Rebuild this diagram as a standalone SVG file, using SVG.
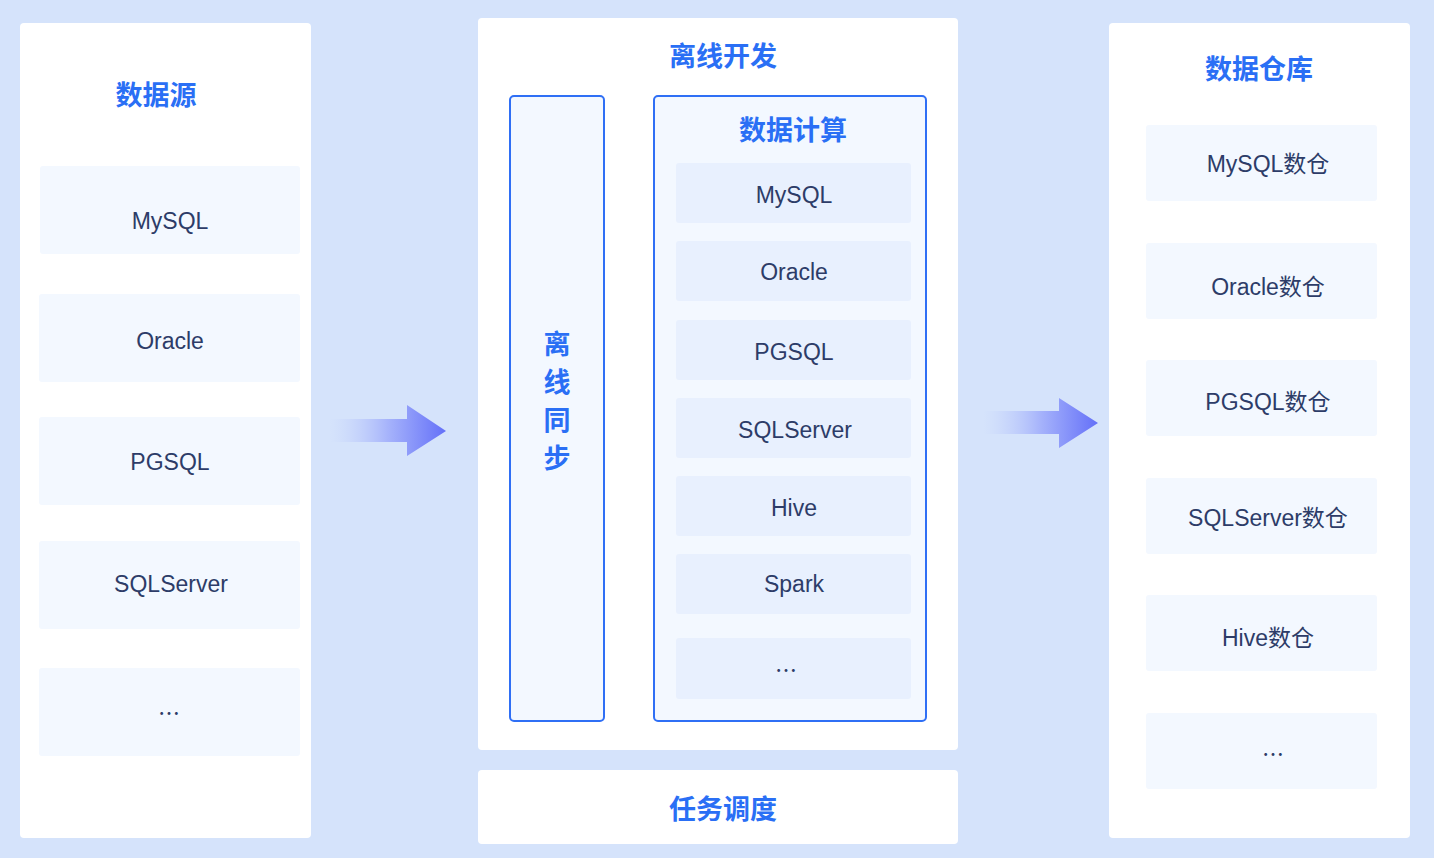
<svg xmlns="http://www.w3.org/2000/svg" width="1434" height="858" viewBox="0 0 1434 858">
<defs>
<style>
.panel{fill:#ffffff;}
.item{fill:#f3f8ff;}
.citem{fill:#e8f0fe;}
.frame{fill:#f3f8ff;stroke:#2f6ff5;stroke-width:2;}
.title{font-family:"Noto Sans CJK SC","Liberation Sans",sans-serif;font-size:27px;font-weight:bold;fill:#2a6ff5;text-anchor:middle;}
.label{font-family:"Liberation Sans","Noto Sans CJK SC",sans-serif;font-size:23px;fill:#2d3c68;text-anchor:middle;}
.dots{font-family:"Noto Sans CJK SC",sans-serif;font-size:22px;fill:#2d3c68;text-anchor:middle;dominant-baseline:central;}
</style>
<linearGradient id="g1" gradientUnits="userSpaceOnUse" x1="330" y1="0" x2="446" y2="0">
<stop offset="0" stop-color="#c3d2fb" stop-opacity="0"/>
<stop offset="0.5" stop-color="#a6b3fb"/>
<stop offset="1" stop-color="#6470f8"/>
</linearGradient>
<linearGradient id="g2" gradientUnits="userSpaceOnUse" x1="983" y1="0" x2="1098" y2="0">
<stop offset="0" stop-color="#c3d2fb" stop-opacity="0"/>
<stop offset="0.5" stop-color="#a6b3fb"/>
<stop offset="1" stop-color="#6470f8"/>
</linearGradient>
</defs>
<rect x="0" y="0" width="1434" height="858" fill="#d5e3fb"/>

<g id="sources">
<rect class="panel" x="20" y="23" width="291" height="815" rx="4"/>
<text class="title" x="156" y="105">数据源</text>
</g>
<g id="src-mysql"><rect class="item" x="40" y="166" width="260" height="88" rx="3"/><text class="label" x="170" y="229">MySQL</text></g>
<g id="src-oracle"><rect class="item" x="39" y="294" width="261" height="88" rx="3"/><text class="label" x="170" y="349">Oracle</text></g>
<g id="src-pgsql"><rect class="item" x="39" y="417" width="261" height="88" rx="3"/><text class="label" x="170" y="470">PGSQL</text></g>
<g id="src-sqlserver"><rect class="item" x="39" y="541" width="261" height="88" rx="3"/><text class="label" x="171" y="592">SQLServer</text></g>
<g id="src-more"><rect class="item" x="39" y="668" width="261" height="88" rx="3"/><text class="dots" x="169" y="711">…</text></g>

<g id="offline-dev">
<rect class="panel" x="478" y="18" width="480" height="732" rx="4"/>
<text class="title" x="723" y="66">离线开发</text>
</g>
<g id="offline-sync">
<rect class="frame" x="510" y="96" width="94" height="625" rx="4"/>
<text class="title" x="557" y="354">离</text>
<text class="title" x="557" y="392">线</text>
<text class="title" x="557" y="430">同</text>
<text class="title" x="557" y="468">步</text>
</g>
<g id="data-compute">
<rect class="frame" x="654" y="96" width="272" height="625" rx="4"/>
<text class="title" x="793" y="140">数据计算</text>
</g>
<g id="dc-mysql"><rect class="citem" x="676" y="163" width="235" height="60" rx="3"/><text class="label" x="794" y="203">MySQL</text></g>
<g id="dc-oracle"><rect class="citem" x="676" y="241" width="235" height="60" rx="3"/><text class="label" x="794" y="280">Oracle</text></g>
<g id="dc-pgsql"><rect class="citem" x="676" y="320" width="235" height="60" rx="3"/><text class="label" x="794" y="360">PGSQL</text></g>
<g id="dc-sqlserver"><rect class="citem" x="676" y="398" width="235" height="60" rx="3"/><text class="label" x="795" y="438">SQLServer</text></g>
<g id="dc-hive"><rect class="citem" x="676" y="476" width="235" height="60" rx="3"/><text class="label" x="794" y="516">Hive</text></g>
<g id="dc-spark"><rect class="citem" x="676" y="554" width="235" height="60" rx="3"/><text class="label" x="794" y="592">Spark</text></g>
<g id="dc-more"><rect class="citem" x="676" y="638" width="235" height="61" rx="3"/><text class="dots" x="786" y="668">…</text></g>

<g id="scheduling">
<rect class="panel" x="478" y="770" width="480" height="74" rx="4"/>
<text class="title" x="723" y="819">任务调度</text>
</g>

<g id="warehouse">
<rect class="panel" x="1109" y="23" width="301" height="815" rx="4"/>
<text class="title" x="1259" y="79">数据仓库</text>
</g>
<g id="dw-mysql"><rect class="item" x="1146" y="125" width="231" height="76" rx="3"/><text class="label" x="1268" y="172">MySQL数仓</text></g>
<g id="dw-oracle"><rect class="item" x="1146" y="243" width="231" height="76" rx="3"/><text class="label" x="1268" y="295">Oracle数仓</text></g>
<g id="dw-pgsql"><rect class="item" x="1146" y="360" width="231" height="76" rx="3"/><text class="label" x="1268" y="410">PGSQL数仓</text></g>
<g id="dw-sqlserver"><rect class="item" x="1146" y="478" width="231" height="76" rx="3"/><text class="label" x="1268" y="526">SQLServer数仓</text></g>
<g id="dw-hive"><rect class="item" x="1146" y="595" width="231" height="76" rx="3"/><text class="label" x="1268" y="646">Hive数仓</text></g>
<g id="dw-more"><rect class="item" x="1146" y="713" width="231" height="76" rx="3"/><text class="dots" x="1273" y="752">…</text></g>

<g id="connectors">
<path d="M330 419 L407 419 L407 405 L446 431 L407 456 L407 442 L330 442 Z" fill="url(#g1)"/>
<path d="M983 411 L1059 411 L1059 398 L1098 423 L1059 448 L1059 434 L983 434 Z" fill="url(#g2)"/>
</g>
</svg>
